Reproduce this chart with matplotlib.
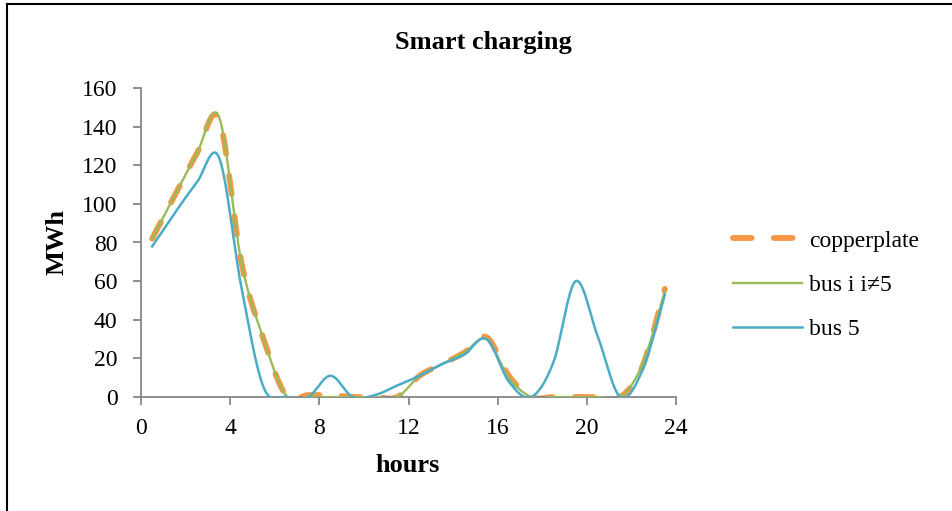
import numpy as np
import matplotlib
matplotlib.use("Agg")
import matplotlib.pyplot as plt
from matplotlib.lines import Line2D

plt.rcParams['font.family'] = ['Liberation Serif', 'DejaVu Serif']

# hourly charging (MWh), one value per hour slot
hours = [h + 0.5 for h in range(24)]
copperplate = [82, 104, 126, 144, 70, 30, 1, 1, 1, 0, 0, 0,
               11, 17, 23, 31, 11, 0, 0, 0, 0, 0, 16, 56]
bus_other = [82, 104, 126, 145, 70, 30, 1, 0, 0, 0, 0, 0,
             11, 17, 23, 30, 10, 0, 0, 0, 0, 0, 17, 55]
bus_5 = [78, 95, 111, 124, 57, 5, 0, 0, 11, 0, 1, 6,
         11, 17, 22, 30, 8, 0, 18, 60, 31, 0, 14, 53]

series_names = ['copperplate', 'bus i i\u22605', 'bus 5']
x_ticks = [0, 4, 8, 12, 16, 20, 24]
y_ticks = [0, 20, 40, 60, 80, 100, 120, 140, 160]

ORANGE = '#F79646'
GREEN = '#9BBB59'
BLUE = '#4BACC6'
AXIS_GREY = '#868686'


def smooth(xs, ys, n=30):
    """Bezier smoothing through the points (Catmull-Rom style control points)."""
    xs = np.asarray(xs, float)
    ys = np.asarray(ys, float)
    px = np.concatenate(([xs[0]], xs, [xs[-1]]))
    py = np.concatenate(([ys[0]], ys, [ys[-1]]))
    out_x, out_y = [], []
    t = np.linspace(0, 1, n)
    for i in range(1, len(px) - 2):
        p0 = np.array([px[i], py[i]])
        p3 = np.array([px[i + 1], py[i + 1]])
        c1 = p0 + (p3 - np.array([px[i - 1], py[i - 1]])) / 6
        c2 = p3 - (np.array([px[i + 2], py[i + 2]]) - p0) / 6
        b = ((1 - t) ** 3)[:, None] * p0 + (3 * (1 - t) ** 2 * t)[:, None] * c1 \
            + (3 * (1 - t) * t ** 2)[:, None] * c2 + (t ** 3)[:, None] * p3
        out_x.extend(b[:, 0])
        out_y.extend(b[:, 1])
    return np.array(out_x), np.array(out_y)


fig = plt.figure(figsize=(9.52, 5.11), dpi=100)
ax = fig.add_axes([141 / 952, 114 / 511, 535 / 952, 309 / 511])

dash_style = dict(color=ORANGE, lw=4.2, dashes=(3.2, 3.8), dash_capstyle='round')
sx, sy = smooth(hours, copperplate)
ax.plot(sx, sy, zorder=2, **dash_style)
sx, sy = smooth(hours, bus_other)
ax.plot(sx, sy, color=GREEN, lw=1.7, zorder=3)
sx, sy = smooth(hours, bus_5)
ax.plot(sx, sy, color=BLUE, lw=1.8, zorder=4)

ax.set_xlim(0, 24)
ax.set_ylim(0, 160)
ax.set_xticks(x_ticks)
ax.set_yticks(y_ticks)
ax.tick_params(axis='both', colors=AXIS_GREY, labelcolor='black',
               labelsize=17, length=6, width=1.3, direction='out')
ax.tick_params(axis='y', pad=11)
ax.tick_params(axis='x', pad=9)
for side in ['top', 'right']:
    ax.spines[side].set_visible(False)
for side in ['left', 'bottom']:
    ax.spines[side].set_color(AXIS_GREY)
    ax.spines[side].set_linewidth(1.3)

fig.text(483 / 952, 1 - 42 / 511, 'Smart charging', ha='center', va='center',
         fontsize=19, fontweight='bold')
fig.text(408 / 952, 1 - 466 / 511, 'hours', ha='center', va='center',
         fontsize=19, fontweight='bold')
fig.text(57 / 952, 1 - 242 / 511, 'MWh', ha='center', va='center',
         rotation=90, fontsize=19, fontweight='bold')

handles = [
    Line2D([], [], **dash_style),
    Line2D([], [], color=GREEN, lw=1.7),
    Line2D([], [], color=BLUE, lw=1.8),
]
fig.legend(handles, series_names, loc='center left',
           bbox_to_anchor=(712 / 952, 1 - 285 / 511), frameon=False,
           fontsize=17, handlelength=2.9, handletextpad=0.3,
           labelspacing=0.96)

# chart frame: top and left edges
fig.add_artist(Line2D([7 / 952, 7 / 952], [0, 1 - 4 / 511], color='black',
                      lw=1.5, transform=fig.transFigure))
fig.add_artist(Line2D([7 / 952, 1], [1 - 4 / 511, 1 - 4 / 511], color='black',
                      lw=1.5, transform=fig.transFigure))

fig.savefig('out.png', dpi=100)
